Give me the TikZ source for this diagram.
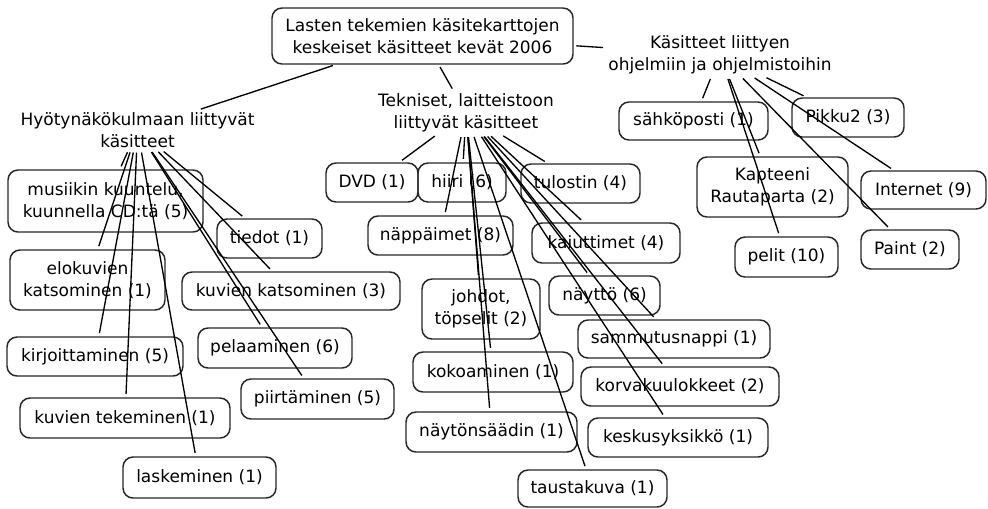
\documentclass[tikz,border=0pt]{standalone}
\usepackage{fontspec}
\setmainfont{DejaVu Sans}
\begin{document}
\begin{tikzpicture}[x=0.75pt,y=-0.75pt,
  every node/.style={font=\fontsize{12.75}{16.5}\selectfont, align=center, inner sep=0pt},
  concept/.style 2 args={draw=black!85, line width=1.1pt, rounded corners=7.5pt,
    minimum width=#1*0.75pt, minimum height=#2*0.75pt},
  hub/.style={inner sep=1.5pt},
  link/.style={line width=1pt, shorten >=2.5pt, shorten <=2pt}
]
\useasboundingbox (0,0) rectangle (988,508);

% root and the three main groups
\node[concept={301}{56}] (root) at (422.5,36) {Lasten tekemien käsitekarttojen\\keskeiset käsitteet kevät 2006};
\node[hub] (use)  at (137.5,130) {Hyötynäkökulmaan liittyvät\\käsitteet};
\node[hub] (tech) at (466,113) {Tekniset, laitteistoon\\liittyvät käsitteet};
\node[hub] (soft) at (720,55) {Käsitteet liittyen\\ohjelmiin ja ohjelmistoihin};

% usage concepts
\node[concept={195}{62}] (music) at (105.5,201) {musiikin kuuntelu,\\kuunnella CD:tä (5)};
\node[concept={105}{39}] (info)  at (269.5,238.5) {tiedot (1)};
\node[concept={155}{60}] (films) at (87.5,280) {elokuvien\\katsominen (1)};
\node[concept={218}{38}] (pics)  at (291,291) {kuvien katsominen (3)};
\node[concept={176}{39}] (write) at (95,356.5) {kirjoittaminen (5)};
\node[concept={154}{40}] (play)  at (275,348) {pelaaminen (6)};
\node[concept={153}{40}] (draw)  at (317.5,399) {piirtäminen (5)};
\node[concept={210}{40}] (make)  at (125,418) {kuvien tekeminen (1)};
\node[concept={153}{41}] (count) at (199.5,477.5) {laskeminen (1)};

% hardware concepts
\node[concept={92}{39}]  (dvd)   at (372,182.5) {DVD (1)};
\node[concept={88}{39}]  (mouse) at (462,182.5) {hiiri (6)};
\node[concept={119}{39}] (print) at (580.5,183.5) {tulostin (4)};
\node[concept={145}{39}] (keys)  at (440.5,235.5) {näppäimet (8)};
\node[concept={148}{40}] (spk)   at (606,243) {kaiuttimet (4)};
\node[concept={118}{60}] (wires) at (481,309) {johdot,\\töpselit (2)};
\node[concept={111}{39}] (scr)   at (604.5,295.5) {näyttö (6)};
\node[concept={192}{38}] (power) at (674,339) {sammutusnappi (1)};
\node[concept={198}{39}] (phones) at (680,386.5) {korvakuulokkeet (2)};
\node[concept={180}{39}] (cpu)   at (678,437.5) {keskusyksikkö (1)};
\node[concept={160}{40}] (build) at (493,372) {kokoaminen (1)};
\node[concept={171}{40}] (adj)   at (491.5,432) {näytönsäädin (1)};
\node[concept={149}{37}] (wall)  at (592.5,488.5) {taustakuva (1)};

% software concepts
\node[concept={149}{38}] (mail)  at (693.5,121) {sähköposti (1)};
\node[concept={112}{39}] (pikku) at (848,117.5) {Pikku2 (3)};
\node[concept={151}{60}] (capt)  at (772.5,187) {Kapteeni\\Rautaparta (2)};
\node[concept={125}{38}] (net)   at (923.5,190) {Internet (9)};
\node[concept={103}{40}] (games) at (786.5,257) {pelit (10)};
\node[concept={98}{39}]  (paint) at (910,249.5) {Paint (2)};

% connectors
\foreach \t in {use,tech,soft} \draw[link] (root) -- (\t);
\foreach \t in {music,info,films,pics,write,play,draw,make,count} \draw[link] (use) -- (\t);
\foreach \t in {dvd,mouse,print,keys,spk,wires,scr,power,phones,cpu,build,adj,wall} \draw[link] (tech) -- (\t);
\foreach \t in {mail,pikku,capt,net,games,paint} \draw[link] (soft) -- (\t);
\end{tikzpicture}
\end{document}
